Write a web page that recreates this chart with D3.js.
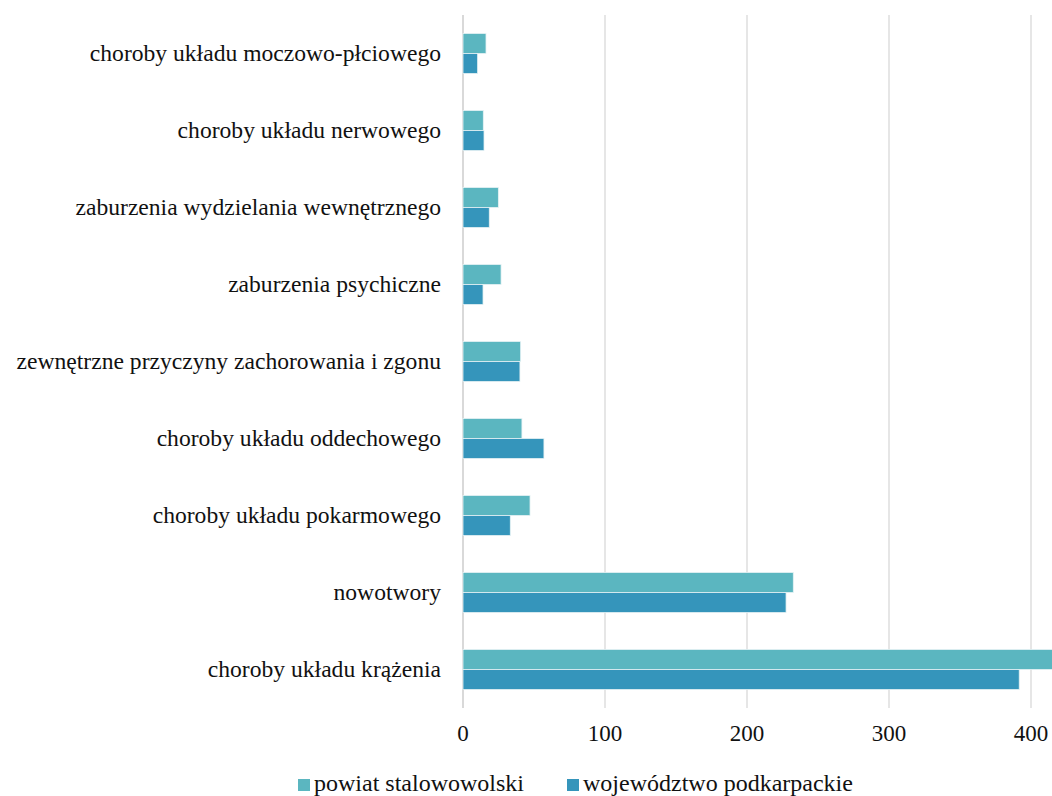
<!DOCTYPE html>
<html>
<head>
<meta charset="utf-8">
<script src="https://cdn.jsdelivr.net/npm/d3@7"></script>
<style>
  body { margin: 0; background: #fff; }
  svg { display: block; font-family: "Liberation Serif", "Times New Roman", serif; }
</style>
</head>
<body>
<svg id="chart" width="1052" height="796"></svg>
<script>
// categories, top to bottom
const categories = [
  "choroby układu moczowo-płciowego",
  "choroby układu nerwowego",
  "zaburzenia wydzielania wewnętrznego",
  "zaburzenia psychiczne",
  "zewnętrzne przyczyny zachorowania i zgonu",
  "choroby układu oddechowego",
  "choroby układu pokarmowego",
  "nowotwory",
  "choroby układu krążenia"
];
const seriesNames = ["powiat stalowowolski", "województwo podkarpackie"];
const powiat = [16.2, 14.3, 24.9, 26.8, 40.6, 41.5, 47.2, 232.6, 425];
const wojewodztwo = [10.3, 14.8, 18.5, 14.1, 40.1, 57.0, 33.3, 227.5, 391.7];
const ticks = [0, 100, 200, 300, 400];
const colors = ["#5bb6c0", "#3595bb"];

const svg = d3.select("#chart");
const margin = { top: 15, left: 463, bottom: 708 };

const x = d3.scaleLinear().domain([0, 400]).range([margin.left, 1031]);
const y = d3.scaleBand().domain(categories).range([margin.top, margin.bottom]).paddingInner(0.48).paddingOuter(0.24);
const ySub = d3.scaleBand().domain(seriesNames).range([0, y.bandwidth()]);

// gridlines
svg.append("g")
  .selectAll("line")
  .data(ticks)
  .join("line")
  .attr("x1", d => x(d)).attr("x2", d => x(d))
  .attr("y1", margin.top).attr("y2", margin.bottom)
  .attr("stroke", "#d9d9d9")
  .attr("stroke-width", d => d === 0 ? 2 : 1.3);

// bars
const rows = categories.map((c, i) => ({ c, vals: [powiat[i], wojewodztwo[i]] }));
svg.append("g")
  .selectAll("g")
  .data(rows)
  .join("g")
  .attr("transform", d => `translate(0,${y(d.c)})`)
  .selectAll("rect")
  .data(d => d.vals.map((v, j) => ({ v, s: seriesNames[j], j })))
  .join("rect")
  .attr("x", x(0))
  .attr("y", d => ySub(d.s))
  .attr("width", d => x(d.v) - x(0))
  .attr("height", ySub.bandwidth())
  .attr("fill", d => colors[d.j])
  .attr("stroke", "#e6f2f4")
  .attr("stroke-width", 0.8);

// category labels
svg.append("g")
  .selectAll("text")
  .data(categories)
  .join("text")
  .attr("x", 441)
  .attr("y", d => y(d) + y.bandwidth() / 2)
  .attr("dy", "0.31em")
  .attr("text-anchor", "end")
  .attr("font-size", 23.6)
  .attr("fill", "#111")
  .text(d => d);

// x axis tick labels
svg.append("g")
  .selectAll("text")
  .data(ticks)
  .join("text")
  .attr("x", d => x(d))
  .attr("y", 741)
  .attr("text-anchor", "middle")
  .attr("font-size", 23)
  .attr("fill", "#111")
  .text(d => d);

// legend
const legendX = [298, 567];
const legend = svg.append("g")
  .selectAll("g")
  .data(seriesNames)
  .join("g")
  .attr("transform", (d, i) => `translate(${legendX[i]},0)`);
legend.append("rect")
  .attr("x", 0).attr("y", 779)
  .attr("width", 12).attr("height", 12)
  .attr("fill", (d, i) => colors[i]);
legend.append("text")
  .attr("x", 16).attr("y", 791)
  .attr("font-size", 24)
  .attr("fill", "#111")
  .text(d => d);
</script>
</body>
</html>
